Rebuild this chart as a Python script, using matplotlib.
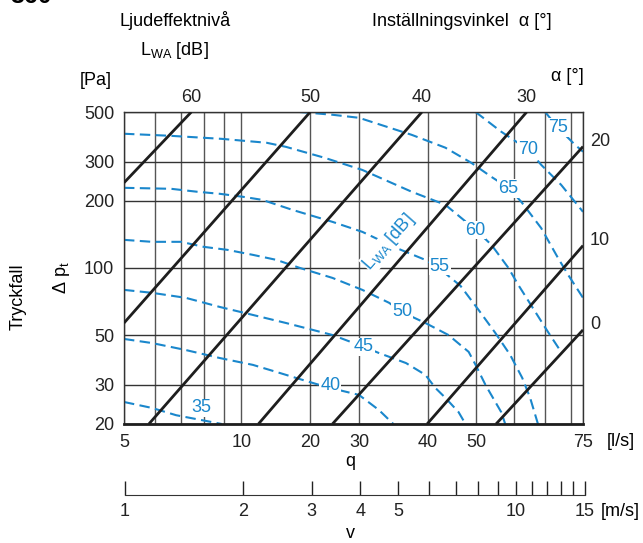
import matplotlib
matplotlib.use("Agg")
import matplotlib.pyplot as plt
from matplotlib.ticker import FixedLocator, NullLocator

plt.rcParams['font.family'] = ['Liberation Sans', 'DejaVu Sans']
plt.rcParams['mathtext.default'] = 'regular'

W, H = 643, 543
BLUE = '#1a87cc'
BLACK = '#1e1e1e'
FS = 13

# --- grid / axes ---
grid_q = [5, 6, 7, 8, 9, 10, 15, 20, 30, 40, 50, 60, 70, 75]
grid_dp = [20, 30, 50, 100, 200, 300, 500]
q_tick_at = [5, 10, 15, 20, 30, 40, 75]
q_tick_text = ['5', '10', '20', '30', '40', '50', '75']
dp_ticks = [20, 30, 50, 100, 200, 300, 500]
v_ticks = list(range(1, 16))
v_labels = [1, 2, 3, 4, 5, 10, 15]

# --- setting angle lines, end points (q, dp) ---
alpha_vals = [60, 50, 40, 30, 20, 10, 0]
alpha_q = [(5, 7.44), (5, 15), (5.79, 29.0), (11.05, 53.8), (17.1, 75), (29.9, 75), (44.9, 75)]
alpha_dp = [(241, 500), (56.7, 500), (20, 500), (20, 500), (20, 350), (20, 126), (20, 52.8)]

# --- sound power level curves ---
lwa35_q = [5.0, 5.9, 6.8, 8.4, 8.9]
lwa35_dp = [25.1, 23.6, 21.9, 20.4, 20.0]
lwa40_q = [5.0, 5.9, 7.2, 8.8, 10.7, 12.3, 14.1, 16.5, 20.0, 22.5, 24.5]
lwa40_dp = [48.1, 46.1, 42.9, 39.5, 36.8, 34.2, 31.8, 29.3, 27.0, 23.1, 20.0]
lwa45_q = [5.0, 5.9, 7.2, 8.8, 10.7, 13.0, 17.1, 20.6, 22.5, 26.4, 29.6, 31.4, 33.3, 36.0, 37.5]
lwa45_dp = [79.8, 77.4, 73.5, 66.9, 61.6, 56.7, 50.1, 44.3, 41.6, 37.5, 33.2, 29.0, 26.2, 22.6, 20.0]
lwa50_q = [5.0, 5.9, 7.0, 8.0, 9.2, 10.7, 12.3, 14.1, 17.1, 20.4, 23.9, 25.7, 29.6, 33.9, 38.2, 39.8, 42.2, 46.3, 47.4]
lwa50_dp = [133.7, 131, 131, 124.4, 120.6, 114.5, 108.7, 100.1, 90.3, 79.8, 69.8, 63.6, 56.7, 50.1, 42.1, 36.8, 29.9, 22.6, 20.0]
lwa55_q = [5.0, 6.6, 7.7, 8.8, 10.1, 11.3, 13.5, 17.1, 20.4, 24.9, 29.6, 32.0, 36.4, 40.5, 44.7, 48.8, 52.4, 54.9, 57.5]
lwa55_dp = [228.7, 226.4, 219.6, 215, 208.4, 202, 182.2, 161, 145.2, 123.1, 108.7, 100.1, 83.2, 64.9, 51.2, 40.8, 32.2, 26.2, 20.0]
lwa60_q = [5.0, 6.6, 8.9, 11.6, 13.0, 16.3, 20.4, 27.3, 33.3, 39.8, 43.7, 48.3, 51.2, 56.6, 61.0, 65.9]
lwa60_dp = [399.5, 391, 379, 364, 349, 312, 275, 219.6, 191.9, 148.3, 127, 100.1, 84, 63.6, 51.7, 42.1]
lwa65_q = [14.1, 17.1, 20.0, 27.3, 33.3, 38.8, 43.7, 48.3, 52.1, 58.6, 64.7, 68.7, 75]
lwa65_dp = [500, 486, 471, 395, 346, 296, 256, 228.7, 198, 151, 111, 93.2, 73.5]
lwa70_q = [39.8, 46.3, 54.3, 58.6, 65.9, 71.5, 75]
lwa70_dp = [500, 408, 339, 290, 236, 198, 178.5]
lwa75_q = [60.0, 64.7, 71.5, 75]
lwa75_dp = [500, 425, 357, 332]

lwa_levels = [35, 40, 45, 50, 55, 60, 65, 70, 75]
lwa_label_q = [7.9, 16.9, 20.6, 25.8, 32.2, 39.7, 48.3, 54.3, 64.7]
lwa_label_dp = [23.6, 29.9, 44.3, 63.8, 102, 148, 228, 339, 425]

curves = [(lwa35_q, lwa35_dp), (lwa40_q, lwa40_dp), (lwa45_q, lwa45_dp),
          (lwa50_q, lwa50_dp), (lwa55_q, lwa55_dp), (lwa60_q, lwa60_dp),
          (lwa65_q, lwa65_dp), (lwa70_q, lwa70_dp), (lwa75_q, lwa75_dp)]


def fx(px):
    return px / W


def fy(py):
    return 1 - py / H


fig = plt.figure(figsize=(W / 100, H / 100), dpi=100)
ax = fig.add_axes([fx(124), fy(424), (583 - 124) / W, (424 - 112) / H])
ax.set_xscale('log')
ax.set_yscale('log')
ax.set_xlim(5, 75)
ax.set_ylim(20, 500)

for q in grid_q:
    ax.axvline(q, color='#555555', lw=1.0, zorder=1)
for p in grid_dp:
    ax.axhline(p, color='#333333', lw=1.0, zorder=1)

for s in ax.spines.values():
    s.set_color('#333333')
    s.set_linewidth(1.0)
ax.spines['bottom'].set_linewidth(2.0)
ax.spines['bottom'].set_color(BLACK)

ax.xaxis.set_major_locator(FixedLocator(q_tick_at))
ax.xaxis.set_minor_locator(NullLocator())
ax.set_xticklabels(q_tick_text)
ax.yaxis.set_major_locator(FixedLocator(dp_ticks))
ax.yaxis.set_minor_locator(NullLocator())
ax.set_yticklabels([str(p) for p in dp_ticks])
ax.tick_params(axis='x', length=0, pad=7, labelsize=FS, colors='#222222')
ax.tick_params(axis='y', length=0, pad=7, labelsize=FS, colors='#222222')

# blue dashed L_WA curves
for cq, cdp in curves:
    ax.plot(cq, cdp, color=BLUE, lw=1.5, ls=(0, (5, 2.6)), zorder=2)

# black setting angle lines
for a, qq, pp in zip(alpha_vals, alpha_q, alpha_dp):
    ax.plot(qq, pp, color=BLACK, lw=2.0, zorder=3, solid_capstyle='butt')
    if pp[1] >= 500:
        ax.annotate(str(a), (qq[1], pp[1]), xytext=(0, 4), textcoords='offset points',
                    ha='center', va='bottom', fontsize=FS, color='#222222',
                    annotation_clip=False)
    else:
        ax.annotate(str(a), (qq[1], pp[1]), xytext=(5, 4), textcoords='offset points',
                    ha='left', va='center', fontsize=FS, color='#222222',
                    annotation_clip=False)

for lv, lq, lp in zip(lwa_levels, lwa_label_q, lwa_label_dp):
    ax.text(lq, lp, str(lv), color=BLUE, fontsize=FS, ha='center', va='center', zorder=5,
            bbox=dict(facecolor='white', edgecolor='none', pad=0.6))

ax.text(23.9, 131, 'L$_{WA}$ [dB]', color=BLUE, fontsize=FS, rotation=48.7,
        rotation_mode='anchor', ha='center', va='center', zorder=5,
        bbox=dict(facecolor='white', edgecolor='none', pad=0.3))

# velocity axis
axv = fig.add_axes([fx(125), fy(495), (585 - 125) / W, 0.001])
axv.patch.set_visible(False)
axv.set_xscale('log')
axv.set_xlim(1, 15)
for s in ['top', 'left', 'right']:
    axv.spines[s].set_visible(False)
axv.spines['bottom'].set_color('#333333')
axv.set_yticks([])
axv.xaxis.set_major_locator(FixedLocator(v_ticks))
axv.xaxis.set_minor_locator(NullLocator())
axv.set_xticklabels([str(v) if v in v_labels else '' for v in v_ticks])
axv.tick_params(axis='x', direction='in', length=10, width=1.0, pad=6, labelsize=FS,
                colors='#222222')

# texts
fig.text(fx(10), fy(3), '360', fontsize=18, fontweight='bold', va='baseline', ha='left')
fig.text(fx(175), fy(26), 'Ljudeffektnivå', fontsize=FS, ha='center', va='baseline')
fig.text(fx(174), fy(55), 'L$_{WA}$ [dB]', fontsize=FS, ha='center', va='baseline')
fig.text(fx(96), fy(85), '[Pa]', fontsize=FS, ha='center', va='baseline')
fig.text(fx(462), fy(26), 'Inställningsvinkel  α [°]', fontsize=FS, ha='center', va='baseline')
fig.text(fx(567), fy(81), 'α [°]', fontsize=FS, ha='center', va='baseline')
fig.text(fx(18), fy(297), 'Tryckfall', fontsize=FS, rotation=90, ha='center', va='center')
fig.text(fx(62), fy(278), 'Δ p$_t$', fontsize=FS, rotation=90, ha='center', va='center')
fig.text(fx(621), fy(442), '[l/s]', fontsize=FS, ha='center', va='center')
fig.text(fx(350), fy(462), 'q', fontsize=FS, ha='center', va='center')
fig.text(fx(620), fy(512), '[m/s]', fontsize=FS, ha='center', va='center')
fig.text(fx(350), fy(533), 'v', fontsize=FS, ha='center', va='center')

fig.savefig('out.png', dpi=100)
